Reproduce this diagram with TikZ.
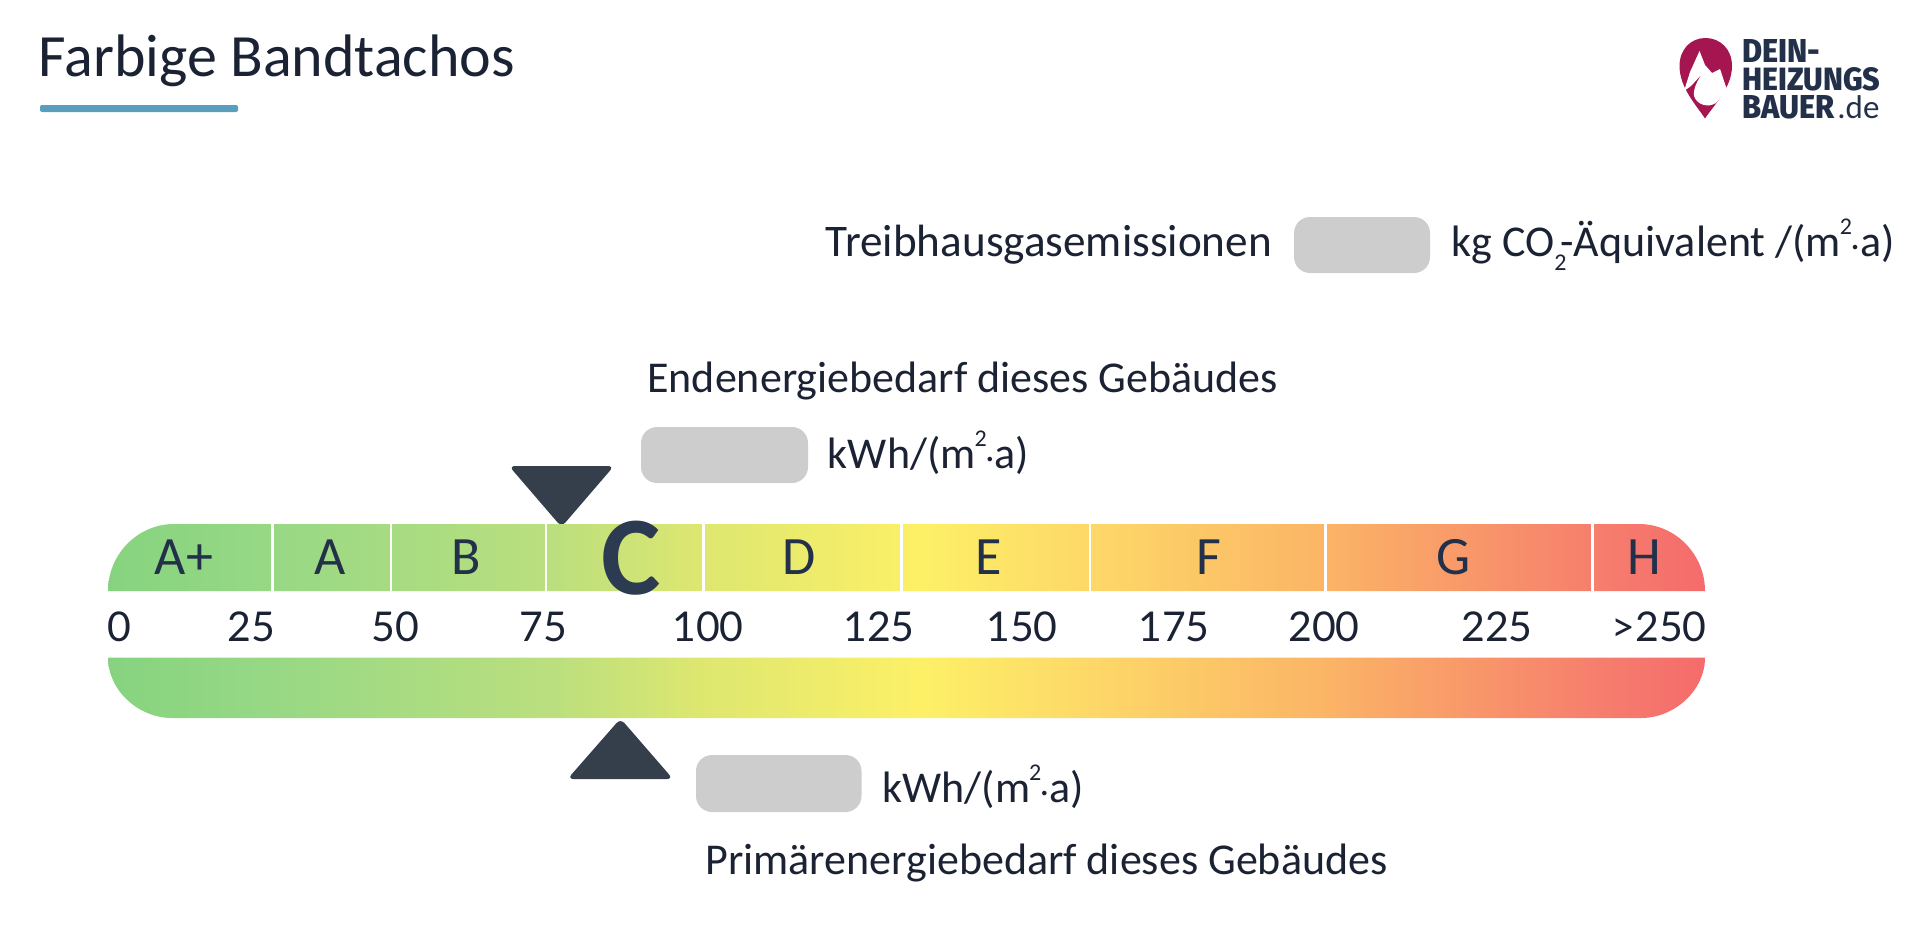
\documentclass[tikz,border=0pt]{standalone}
\usepackage{fontspec}
\setmainfont{Carlito}
\newfontfamily\logofont{Fira Sans}[UprightFont=* ExtraBold]
\newfontfamily\digitfont{Lato}
\newcommand{\upsmall}{\raisebox{0.5em}{\fontsize{12}{12}\selectfont 2}}
\newcommand{\downsmall}{\raisebox{-0.32em}{\fontsize{12}{12}\selectfont 2}}
\newcommand{\sq}{m\kern-0.5pt\upsmall\kern-0.5pt{\fontsize{16}{16}\selectfont·}\kern0.5pt a}
\definecolor{inkdark}{HTML}{1A2233}
\definecolor{inkband}{HTML}{22304A}
\definecolor{inkc}{HTML}{2C3A52}
\definecolor{markdark}{HTML}{353F4C}
\definecolor{boxgrey}{HTML}{CDCDCD}
\definecolor{rulblue}{HTML}{5A9EBD}
\definecolor{pinred}{HTML}{A5154F}
\definecolor{bandA}{HTML}{86D37F}
\definecolor{bandB}{HTML}{97D885}
\definecolor{bandC}{HTML}{BBDF7E}
\definecolor{bandD}{HTML}{DDE770}
\definecolor{bandE}{HTML}{FDF067}
\definecolor{bandF}{HTML}{FDD868}
\definecolor{bandG}{HTML}{FBB566}
\definecolor{bandH}{HTML}{F67F6D}
\definecolor{bandI}{HTML}{F56B6C}
\pgfdeclarehorizontalshading{bandshade}{100bp}{color(0bp)=(bandA); color(25bp)=(bandA);
  color(30bp)=(bandB); color(39bp)=(bandC); color(43.5bp)=(bandD); color(50.5bp)=(bandE);
  color(55.75bp)=(bandF); color(63bp)=(bandG); color(71.5bp)=(bandH); color(75bp)=(bandI);
  color(100bp)=(bandI)}
\tikzset{
  bodytext/.style={anchor=base west,inner sep=0pt,text=inkdark,font=\fontsize{22}{24}\selectfont},
  lettertext/.style={anchor=base,inner sep=0pt,text=inkband,font=\fontsize{27}{28}\selectfont},
  scaletext/.style={anchor=base,inner sep=0pt,text=inkdark,font=\digitfont\fontsize{20.5}{24}\selectfont},
  logotext/.style={anchor=base west,inner sep=0pt,text=inkband},
  greybox/.style={fill=boxgrey,rounded corners=8pt},
  marker/.style={fill=markdark,rounded corners=3pt},
  sep/.style={draw=white,line width=1.3pt}
}

\begin{document}
\begin{tikzpicture}[x=0.5pt,y=-0.5pt]
  \useasboundingbox (0,0) rectangle (1920,948);
  % title
  \draw (38,76) node[bodytext,font=\fontsize{30}{32}\selectfont] (title) {Farbige Bandtachos};
  \fill[rulblue,rounded corners=1pt] (40,105) rectangle (238,112);
  % logo
  \fill[pinred] (1705,118.5) .. controls (1697,106) and (1679.5,88) .. (1679.5,66)
    .. controls (1679.5,49) and (1691,38) .. (1705.5,38)
    .. controls (1720,38) and (1732,49) .. (1732,66)
    .. controls (1732,88) and (1713,106) .. (1705,118.5) -- cycle;
  \fill[white] (1684,91) -- (1690,72) -- (1699.5,51) -- (1705,65) -- (1712,73) -- (1720,69)
    -- (1727,90) -- (1716,103) .. controls (1708,108) and (1697,105) .. (1694,96)
    .. controls (1693,88) and (1698,80) .. (1702,74) -- (1691,86) -- cycle;
  \draw (1742,62) node[logotext] (logoa) {\resizebox{39pt}{11.5pt}{\logofont DEIN-}};
  \draw (1742,90) node[logotext] (logob) {\resizebox{69pt}{11.5pt}{\logofont HEIZUNGS}};
  \draw (1742,118) node[logotext] (logoc) {\resizebox{46pt}{11.5pt}{\logofont BAUER}};
  \draw (1837,118) node[logotext,font=\fontsize{16.5}{18}\selectfont] (logod) {.de};
  % greenhouse line
  \draw (825.5,256) node[bodytext,font=\fontsize{22.6}{24}\selectfont] (ghg) {Treibhausgasemissionen};
  \fill[greybox] (1294,217) rectangle (1430,273);
  \draw (1451,256) node[bodytext] (ghgunit) {kg CO\downsmall\kern-3pt-Äquivalent /(\sq)};
  % final energy
  \draw (647,392) node[bodytext] (endtitle) {Endenergiebedarf dieses Gebäudes};
  \fill[greybox] (641,427) rectangle (808,483);
  \draw (827.5,468) node[bodytext] (endunit) {kWh/(\sq)};
  \fill[marker] (509,466) -- (614,466) -- (561.5,527) -- cycle;
  % upper band
  \path[shading=bandshade] (108,591) .. controls (108,554.5) and (137.5,524) .. (174,524)
    -- (1639,524) .. controls (1675.5,524) and (1705,554.5) .. (1705,591) -- cycle;
  \draw[sep] (272.5,524) -- (272.5,591);
  \draw[sep] (391,524) -- (391,591);
  \draw[sep] (546,524) -- (546,591);
  \draw[sep] (703.5,524) -- (703.5,591);
  \draw[sep] (901.5,524) -- (901.5,591);
  \draw[sep] (1090,524) -- (1090,591);
  \draw[sep] (1325.5,524) -- (1325.5,591);
  \draw[sep] (1592.5,524) -- (1592.5,591);
  \draw (184,574) node[lettertext] (classAp) {A+};
  \draw (330,574) node[lettertext] (classA) {A};
  \draw (466,574) node[lettertext] (classB) {B};
  \draw (631.5,594) node[lettertext,text=inkc,font=\bfseries\fontsize{56}{60}\selectfont] (classC) {C};
  \draw (799,574) node[lettertext] (classD) {D};
  \draw (989,574) node[lettertext] (classE) {E};
  \draw (1209,574) node[lettertext] (classF) {F};
  \draw (1454,574) node[lettertext] (classG) {G};
  \draw (1644,574) node[lettertext] (classH) {H};
  % scale
  \draw (119,641) node[scaletext] (tick0) {0};
  \draw (251,641) node[scaletext] (tick25) {25};
  \draw (395.5,641) node[scaletext] (tick50) {50};
  \draw (543.5,641) node[scaletext] (tick75) {75};
  \draw (708,641) node[scaletext] (tick100) {100};
  \draw (879,641) node[scaletext] (tick125) {125};
  \draw (1022,641) node[scaletext] (tick150) {150};
  \draw (1174,641) node[scaletext] (tick175) {175};
  \draw (1324,641) node[scaletext] (tick200) {200};
  \draw (1497,641) node[scaletext] (tick225) {225};
  \draw (1659,641) node[scaletext] (tick250) {>250};
  % lower band
  \path[shading=bandshade] (108,657.5) .. controls (108,690) and (138,718) .. (172,718)
    -- (1641,718) .. controls (1675,718) and (1705,690) .. (1705,657.5) -- cycle;
  \fill[marker] (567.5,779) -- (673,779) -- (620.5,718.5) -- cycle;
  \fill[greybox] (696,755) rectangle (861.5,812);
  \draw (882,802) node[bodytext] (primunit) {kWh/(\sq)};
  \draw (705,874.5) node[bodytext] (primtitle) {Primärenergiebedarf dieses Gebäudes};
\end{tikzpicture}
\end{document}
